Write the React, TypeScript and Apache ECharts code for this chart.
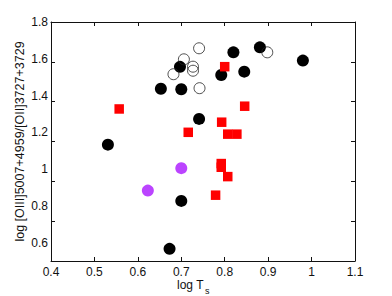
import React, { useEffect, useRef } from "react";
import * as echarts from "echarts";

const xTicks = [0.4, 0.5, 0.6, 0.7, 0.8, 0.9, 1.0, 1.1];
const yTicks = [0.6, 0.8, 1.0, 1.2, 1.4, 1.6, 1.8];

const blackFilled: [number, number][] = [
  [0.531, 1.133],
  [0.7, 0.827],
  [0.673, 0.566],
  [0.653, 1.437],
  [0.7, 1.434],
  [0.697, 1.556],
  [0.741, 1.273],
  [0.82, 1.635],
  [0.881, 1.662],
  [0.792, 1.512],
  [0.845, 1.53],
  [0.98, 1.59],
];

const openCircles: [number, number][] = [
  [0.741, 1.657],
  [0.706, 1.597],
  [0.727, 1.557],
  [0.727, 1.535],
  [0.682, 1.516],
  [0.742, 1.44],
  [0.898, 1.635],
];

const redSquares: [number, number][] = [
  [0.557, 1.327],
  [0.716, 1.2],
  [0.8, 1.557],
  [0.846, 1.342],
  [0.793, 1.255],
  [0.807, 1.19],
  [0.828, 1.19],
  [0.792, 1.03],
  [0.792, 1.01],
  [0.807, 0.959],
  [0.779, 0.858],
];

const purpleCircles: [number, number][] = [
  [0.623, 0.883],
  [0.7, 1.005],
];

const yAxisName = "log [OIII]5007+4959/[OII]3727+3729";
const xAxisName = "log T";
const xAxisSub = "s";

export default function App() {
  const ref = useRef<HTMLDivElement>(null);
  useEffect(() => {
    if (!ref.current) return;
    const chart = echarts.init(ref.current, undefined, { renderer: "svg" });
    const font = "'Liberation Sans', Arial, Helvetica, sans-serif";
    const axisLine = { show: true, lineStyle: { color: "#111", width: 1 } };
    const tick = { show: true, inside: true, length: 4, lineStyle: { color: "#111", width: 1 } };
    chart.setOption({
      animation: false,
      backgroundColor: "#fff",
      grid: { left: 51, right: 37, top: 22, bottom: 35, show: false },
      xAxis: [
        {
          type: "value",
          min: 0.4,
          max: 1.1,
          interval: 0.1,
          position: "bottom",
          axisLine,
          axisTick: tick,
          splitLine: { show: false },
          axisLabel: {
            color: "#111",
            fontFamily: font,
            fontSize: 12,
            lineHeight: 12,
            margin: 5,
            formatter: (v: number) => {
              const r = Math.round(v * 10) / 10;
              return xTicks.includes(r) ? (r === 1 ? "1" : String(r)) : "";
            },
          },
        },
        {
          type: "value",
          min: 0.4,
          max: 1.1,
          interval: 0.1,
          position: "top",
          axisLine,
          axisTick: tick,
          splitLine: { show: false },
          axisLabel: { show: false },
        },
      ],
      yAxis: [
        {
          type: "value",
          min: 0.5,
          max: 1.8,
          interval: 0.1,
          position: "left",
          name: yAxisName,
          nameLocation: "middle",
          nameRotate: 90,
          nameGap: 25,
          nameMoveOverlap: false,
          nameTextStyle: { color: "#111", fontFamily: font, fontSize: 12.5 },
          axisLine,
          axisTick: { show: false },
          splitLine: { show: false },
          axisLabel: {
            color: "#111",
            fontFamily: font,
            fontSize: 12,
            margin: 3,
            formatter: (v: number) => {
              const r = Math.round(v * 10) / 10;
              return yTicks.includes(r) ? (r === 1 ? "1" : String(r)) : "";
            },
          },
        },
        {
          type: "value",
          min: 0.6,
          max: 1.8,
          interval: 0.2,
          position: "right",
          axisLine,
          axisTick: tick,
          splitLine: { show: false },
          axisLabel: { show: false },
        },
        {
          type: "value",
          min: 0.6,
          max: 1.8,
          interval: 0.2,
          position: "left",
          offset: 0,
          axisLine: { show: false },
          axisTick: tick,
          splitLine: { show: false },
          axisLabel: { show: false },
        },
      ],
      graphic: [
        {
          type: "text",
          left: 177,
          top: 279,
          style: { text: xAxisName, fill: "#111", font: `12px ${font}` },
        },
        {
          type: "text",
          left: 205,
          top: 286,
          style: { text: xAxisSub, fill: "#111", font: `9px ${font}` },
        },
      ],
      series: [
        {
          type: "scatter",
          data: blackFilled,
          symbol: "circle",
          symbolSize: 12,
          itemStyle: { color: "#000", opacity: 1 },
        },
        {
          type: "scatter",
          data: openCircles,
          symbol: "circle",
          symbolSize: 11,
          itemStyle: {
            color: "rgba(0,0,0,0)",
            borderColor: "#222",
            borderWidth: 0.8,
            opacity: 1,
          },
        },
        {
          type: "scatter",
          data: redSquares,
          symbol: "rect",
          symbolSize: 9.5,
          itemStyle: { color: "#ff0000", opacity: 1 },
        },
        {
          type: "scatter",
          data: purpleCircles,
          symbol: "circle",
          symbolSize: 12,
          itemStyle: { color: "#bb44ff", opacity: 1 },
        },
      ],
    });
    return () => chart.dispose();
  }, []);
  return (
    <div
      ref={ref}
      style={{ position: "absolute", left: 0, top: 0, width: 392, height: 296 }}
    />
  );
}
